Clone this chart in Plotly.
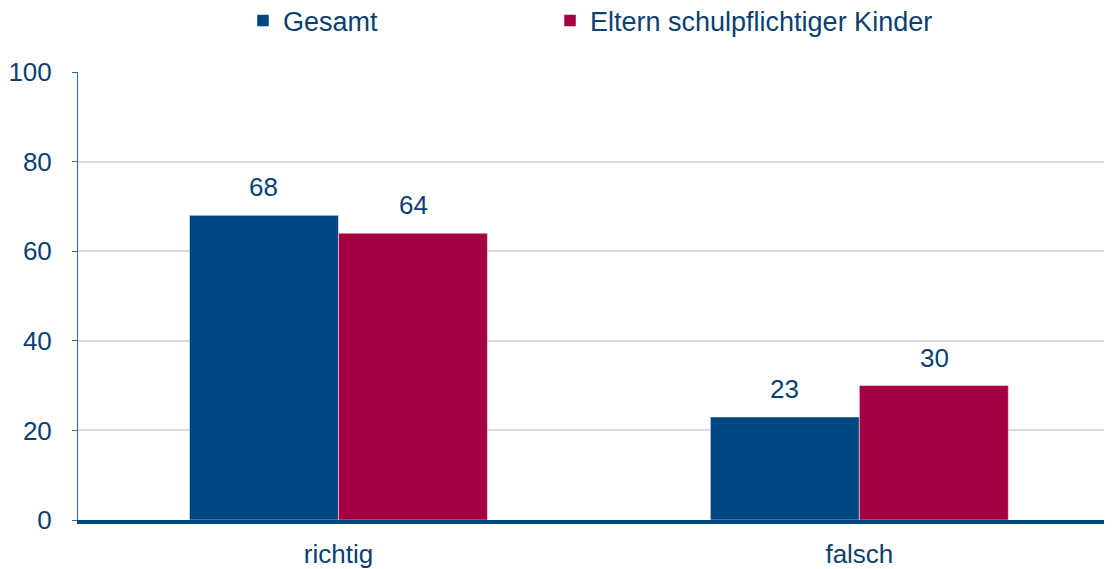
import plotly.graph_objects as go

# Werte aus der Grafik (Prozent)
categories = ["richtig", "falsch"]
series_names = ["Gesamt", "Eltern schulpflichtiger Kinder"]
gesamt = [68, 23]
eltern = [64, 30]
y_ticks = [0, 20, 40, 60, 80, 100]

BLUE = "#004781"
RED = "#A50044"
TEXT = "#0B3F72"
FONT = "Liberation Sans, Arial, sans-serif"
W, H = 1104, 561  # page body has an 8px margin

fig = go.Figure()
for name, vals, col, lg in [(series_names[0], gesamt, BLUE, "legend"),
                            (series_names[1], eltern, RED, "legend2")]:
    fig.add_trace(go.Bar(
        x=categories, y=vals, name=name, legend=lg,
        marker=dict(color=col, line=dict(color="rgba(255,255,255,0.6)", width=0.8)),
    ))

# Wertebeschriftungen über den Balken
half = 75
for vals, shift in [(gesamt, -half), (eltern, half)]:
    for cat, v in zip(categories, vals):
        fig.add_annotation(x=cat, y=v, text=str(v), showarrow=False,
                           xshift=shift, yshift=11, yanchor="bottom",
                           font=dict(size=26, color=TEXT, family=FONT))

leg = dict(orientation="h", xref="container", yref="container",
           y=1 - 13 / H, xanchor="left", yanchor="middle",
           font=dict(size=27, color=TEXT), itemclick=False)

fig.update_layout(
    width=W, height=H,
    margin=dict(l=64, r=0, t=64, b=47),
    paper_bgcolor="white", plot_bgcolor="white",
    barmode="group", bargap=0.428, bargroupgap=0,
    font=dict(family=FONT, size=26, color=TEXT),
    legend=dict(leg, x=235 / W),
    legend2=dict(leg, x=542 / W),
    showlegend=True,
)
fig.update_xaxes(range=[-0.5, 1.485], showline=True, linewidth=4, linecolor=BLUE,
                 ticks="", ticklabelstandoff=8, tickfont=dict(size=26, color=TEXT))
fig.update_yaxes(range=[0, 100], tickvals=y_ticks, showgrid=True, gridcolor="#D9D9D9",
                 gridwidth=1.5, showline=True, linewidth=1, linecolor="#2E6AA6",
                 ticks="outside", ticklen=5, tickcolor="#2E6AA6",
                 ticklabelstandoff=15, zeroline=False,
                 tickfont=dict(size=26, color=TEXT))

fig.write_html("out.html")
